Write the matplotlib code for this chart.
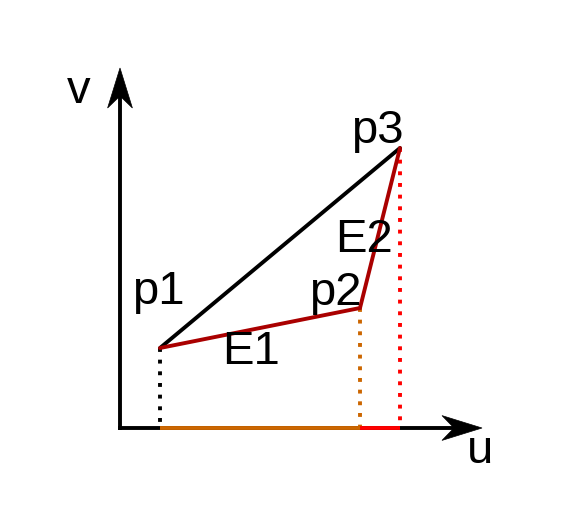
import matplotlib
matplotlib.use("Agg")
import matplotlib.pyplot as plt
from matplotlib.patches import Polygon

plt.rcParams['font.family'] = ['Liberation Sans', 'DejaVu Sans']

# points (u, v)
point_names = ["p1", "p2", "p3"]
u_vals = [1.0, 6.0, 7.0]
v_vals = [2.0, 3.0, 7.0]
drop_colors = ["#000000", "#CC6600", "#FF0000"]
edge_names = ["E1", "E2"]
axis_len = 9.0

DARKRED = "#AA0000"
LW = 2.8

fig = plt.figure(figsize=(5.64, 5.2), dpi=100)
ax = fig.add_axes([0, 0, 1, 1])
ax.set_xlim(-3.0, 11.1)
ax.set_ylim(-2.3, 10.7)
ax.axis("off")

def arrow_head(ax, tip, direction):
    # stealth-like arrowhead
    L, W, notch = 1.0, 0.31, 0.7
    tx, ty = tip
    dx, dy = direction
    px, py = -dy, dx
    pts = [
        (tx, ty),
        (tx - L * dx + W * px, ty - L * dy + W * py),
        (tx - notch * dx, ty - notch * dy),
        (tx - L * dx - W * px, ty - L * dy - W * py),
    ]
    ax.add_patch(Polygon(pts, closed=True, facecolor="black", edgecolor="black", lw=0.5, zorder=5))

# axes lines
ax.plot([-0.05, axis_len - 0.5], [0, 0], color="black", lw=LW, solid_capstyle="butt", zorder=2)
ax.plot([0, 0], [-0.05, axis_len - 0.5], color="black", lw=LW, solid_capstyle="butt", zorder=2)
arrow_head(ax, (axis_len + 0.05, 0), (1, 0))
arrow_head(ax, (0, axis_len), (0, 1))

# coloured segments on u axis
ax.plot([u_vals[0], u_vals[1]], [0, 0], color=drop_colors[1], lw=LW, solid_capstyle="butt", zorder=3)
ax.plot([u_vals[1], u_vals[2]], [0, 0], color=drop_colors[2], lw=LW, solid_capstyle="butt", zorder=3)

# dotted drop lines
for u, v, c in zip(u_vals, v_vals, drop_colors):
    ax.plot([u, u], [v, 0], color=c, lw=LW, linestyle=(0, (1.0, 2.0)),
            dash_capstyle="butt", zorder=2)

# black chord p1-p3
ax.plot([u_vals[0], u_vals[2]], [v_vals[0], v_vals[2]], color="black", lw=LW,
        solid_capstyle="round", zorder=3)
# dark red polyline p1-p2-p3
ax.plot(u_vals, v_vals, color=DARKRED, lw=LW, solid_capstyle="round",
        solid_joinstyle="miter", zorder=4)

FS = 34
label_pos = {"p1": (0.3, 3.1), "p2": (4.72, 3.08), "p3": (5.78, 7.13),
             "E1": (2.56, 1.6), "E2": (5.37, 4.4), "v": (-1.33, 8.13), "u": (8.66, -0.88)}
for name in point_names + edge_names + ["v", "u"]:
    x, y = label_pos[name]
    ax.text(x, y, name, fontsize=FS, ha="left", va="baseline", color="black", zorder=6)

fig.savefig("out.png", dpi=100)
